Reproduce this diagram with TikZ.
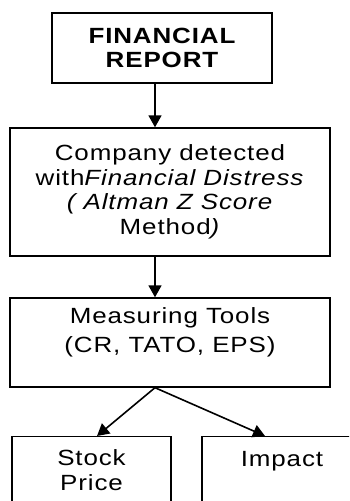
\documentclass[tikz,border=0pt]{standalone}
\usepackage{fontspec}
\setmainfont[LetterSpace=4,FakeStretch=1.18]{Liberation Sans}
\usetikzlibrary{arrows.meta}

\begin{document}
\begin{tikzpicture}[x=1pt,y=1pt,
    box/.style={draw, line width=1.4pt, inner sep=0pt, align=center,
        font=\fontsize{22}{24.5}\selectfont},
    arr/.style={-{Triangle[width=13pt,length=12pt]}, line width=1.6pt}]
                    \useasboundingbox (0,0) rectangle (349,501);
                    \clip (0,0) rectangle (349,501);

                    \node[box, minimum width=220, minimum height=70] (report) at (162,453)
                        {\bfseries FINANCIAL\\\bfseries REPORT};
                    \node[box, minimum width=320, minimum height=128] (distress) at (170,309)
                        {Company detected\\with\textit{Financial Distress}\\\textit{( Altman Z Score}\\Method\textit{)}};
                    \node[box, minimum width=320, minimum height=89] (tools) at (170,158.5)
                        {Measuring Tools\\[4pt](CR, TATO, EPS)\\[0pt]};

                    \node[box, anchor=north, minimum width=159, inner ysep=13pt, text depth=60pt] (stock) at (91.5,65)
                        {Stock\\Price};
                    \node[box, anchor=north, minimum width=160, inner ysep=15pt, text depth=60pt] (impact) at (282,65)
                        {Impact};

                    \draw[arr] ([xshift=-7pt]report.south) -- ([xshift=-7pt]report.south |- distress.north);
                    \draw[arr] ([xshift=-15pt]distress.south) -- ([xshift=-15pt]distress.south |- tools.north);
                    \draw[arr] ([xshift=-15pt]tools.south) -- ([xshift=5.5pt]stock.north);
                    \draw[arr] ([xshift=-15pt]tools.south) -- ([xshift=-17pt]impact.north);

                \end{tikzpicture}
\end{document}
